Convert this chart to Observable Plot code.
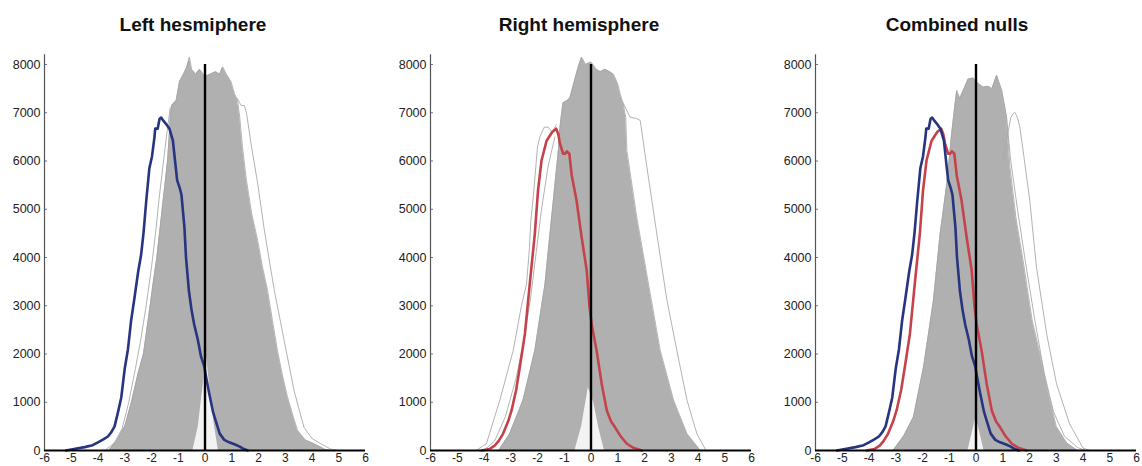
<!DOCTYPE html>
<html><head><meta charset="utf-8">
<script src="https://cdn.jsdelivr.net/npm/d3@7"></script>
<script src="https://cdn.jsdelivr.net/npm/@observablehq/plot@0.6"></script>
<style>
body{margin:0;background:#fff;font-family:"Liberation Sans",Arial,sans-serif;}
#row{display:flex;width:1142px;height:466px;overflow:hidden;position:relative}
.panel{flex:none;position:relative}
.title{height:40px;line-height:50px;font-weight:bold;font-size:19px;text-align:center;color:#111;white-space:nowrap}
svg{display:block;overflow:visible}
</style></head>
<body><div id="row"></div>
<script>
// ---- data ----
const panelTitles = ["Left hesmiphere", "Right hemisphere", "Combined nulls"];
const xTicks = [-6,-5,-4,-3,-2,-1,0,1,2,3,4,5,6];
const yTicks = [0,1000,2000,3000,4000,5000,6000,7000,8000];

// observed distributions [z, count]
const leftObserved = [[-5.2,0],[-4.9,30],[-4.5,70],[-4.2,110],[-4.0,170],[-3.8,230],[-3.63,290],[-3.5,380],[-3.38,500],[-3.25,800],[-3.13,1100],[-3.0,1700],[-2.88,2100],[-2.76,2700],[-2.64,3150],[-2.5,3700],[-2.39,4050],[-2.3,4500],[-2.2,5150],[-2.08,5850],[-1.98,6100],[-1.89,6490],[-1.86,6670],[-1.77,6670],[-1.7,6870],[-1.64,6900],[-1.55,6830],[-1.46,6770],[-1.33,6670],[-1.2,6420],[-1.1,5900],[-1.04,5600],[-0.95,5450],[-0.88,5300],[-0.77,4630],[-0.71,4000],[-0.6,3300],[-0.5,2900],[-0.4,2600],[-0.27,2300],[-0.15,1950],[-0.03,1750],[0.05,1500],[0.15,1200],[0.3,800],[0.41,600],[0.55,350],[0.72,220],[0.9,170],[1.1,130],[1.3,80],[1.45,30],[1.6,0]];
const rightObserved = [[-4.1,0],[-3.8,30],[-3.6,100],[-3.45,200],[-3.29,345],[-3.1,600],[-2.97,830],[-2.8,1250],[-2.66,1730],[-2.47,2420],[-2.29,3450],[-2.1,4490],[-1.98,5390],[-1.85,6010],[-1.66,6420],[-1.45,6600],[-1.3,6670],[-1.22,6550],[-1.16,6360],[-1.04,6150],[-0.97,6150],[-0.9,6200],[-0.81,6150],[-0.72,5700],[-0.54,5180],[-0.35,4420],[-0.16,3730],[-0.06,3000],[0.03,2600],[0.21,2070],[0.4,1380],[0.59,830],[0.75,600],[0.9,480],[1.1,300],[1.34,140],[1.6,50],[1.9,0]];

// null clouds: upper envelope of the dense bundle, lower envelope (gap), outlying null curves
const leftNullTop = [[-3.6,0],[-3.3,200],[-3.0,500],[-2.75,1000],[-2.5,1600],[-2.3,2000],[-2.15,2600],[-2.05,3000],[-1.93,3500],[-1.8,4000],[-1.7,4500],[-1.6,5000],[-1.5,5500],[-1.4,6000],[-1.34,6500],[-1.3,6900],[-1.25,7150],[-1.08,7250],[-0.95,7650],[-0.8,7800],[-0.68,7950],[-0.58,8150],[-0.5,7900],[-0.35,7800],[-0.2,7900],[0,7750],[0.2,7800],[0.4,7850],[0.55,7800],[0.66,7950],[0.8,7800],[0.97,7650],[1.1,7400],[1.22,7250],[1.3,6900],[1.4,6300],[1.55,5600],[1.75,4900],[1.97,4350],[2.15,3800],[2.34,3320],[2.52,2700],[2.71,2070],[2.9,1550],[3.09,1100],[3.3,700],[3.46,415],[3.75,220],[4.08,140],[4.5,20],[4.7,0]];
const leftNullGap = [[-0.45,0],[-0.25,500],[-0.08,1300],[0.05,2000],[0.18,1300],[0.33,600],[0.5,0]];
const leftNullOutliers = [
  [[1.2,7300],[1.35,7150],[1.47,7150],[1.55,7000],[1.72,6360],[1.97,5530],[2.21,4600],[2.4,3950],[2.59,3320],[2.96,2280],[3.33,1240],[3.7,480],[4.0,250],[4.33,140],[4.7,30],[5.0,0]],
  [[-3.75,0],[-3.4,150],[-3.1,450],[-2.85,1000],[-2.6,1700],[-2.4,2300],[-2.2,3000],[-2.0,3800],[-1.85,4500],[-1.7,5300],[-1.55,6000],[-1.42,6600],[-1.3,7100]]
];

const rightNullTop = [[-3.45,0],[-3.04,345],[-2.54,1040],[-2.1,2070],[-1.72,3450],[-1.47,4840],[-1.22,6220],[-1.16,6700],[-1.05,7200],[-0.9,7250],[-0.79,7300],[-0.6,7700],[-0.45,8000],[-0.35,8150],[-0.2,8000],[0,8050],[0.2,7900],[0.35,7850],[0.52,7900],[0.7,7850],[0.84,7800],[1.0,7600],[1.09,7390],[1.2,7200],[1.3,6900],[1.34,6220],[1.71,4840],[2.15,3450],[2.59,2070],[3.09,1040],[3.59,345],[4.09,0]];
const rightNullGap = [[-0.6,0],[-0.35,500],[-0.1,1300],[0.1,1000],[0.3,450],[0.5,0]];
const rightNullOutliers = [
  [[-4.3,0],[-3.91,140],[-3.41,1040],[-2.91,2070],[-2.6,3000],[-2.41,3450],[-2.3,4200],[-2.25,4760],[-2.15,5300],[-2.0,6300],[-1.91,6500],[-1.75,6700],[-1.6,6700],[-1.45,6600],[-1.3,6750]],
  [[-4.0,0],[-3.6,200],[-3.2,700],[-2.8,1500],[-2.5,2300],[-2.25,3200],[-2.05,4100],[-1.85,5000],[-1.6,5900],[-1.35,6500]],
  [[1.2,7200],[1.46,6910],[1.7,6880],[1.84,6840],[2.09,5870],[2.46,4490],[2.84,3110],[3.21,2070],[3.59,1040],[3.96,345],[4.3,0]]
];

const combinedNullTop = [[-3.1,0],[-2.7,300],[-2.34,690],[-1.96,1730],[-1.59,3110],[-1.34,4490],[-1.09,5530],[-0.91,6560],[-0.8,7100],[-0.72,7460],[-0.6,7300],[-0.45,7500],[-0.29,7700],[-0.1,7720],[0.1,7600],[0.27,7530],[0.45,7550],[0.6,7500],[0.77,7770],[0.96,7460],[1.14,6910],[1.27,5870],[1.5,4800],[1.76,3940],[2.1,2700],[2.39,2000],[2.7,1200],[3.0,500],[3.4,150],[3.8,0]];
const combinedNullGap = [[-0.3,0],[0,700],[0.3,0]];
const combinedNullOutliers = [
  [[1.0,6000],[1.2,6600],[1.3,6900],[1.39,6980],[1.45,7010],[1.55,6900],[1.64,6700],[1.76,6220],[2.01,5180],[2.26,3800],[2.64,2420],[3.01,1380],[3.5,550],[4.0,50],[4.25,0]],
  [[0.6,7500],[0.77,7770],[0.96,7460],[1.14,6910],[1.3,6000],[1.55,5000],[1.85,3900],[2.2,2700],[2.55,1600],[2.9,800],[3.3,300],[3.8,60],[4.1,0]]
];

// ---- drawing ----
const BLUE = "#27347f", RED = "#c4434b", GRAY = "#a9a9a9";
const panels = [
  {top: leftNullTop, gap: leftNullGap, outliers: leftNullOutliers, observed: [[leftObserved, BLUE]], w: 386, ml: 44, mr: 21},
  {top: rightNullTop, gap: rightNullGap, outliers: rightNullOutliers, observed: [[rightObserved, RED]], w: 386, ml: 44, mr: 21},
  {top: combinedNullTop, gap: combinedNullGap, outliers: combinedNullOutliers, observed: [[rightObserved, RED],[leftObserved, BLUE]], w: 370, ml: 43, mr: 6}
];
const row = document.getElementById("row");
const px = d => d[0], py = d => d[1];
panels.forEach((p, i) => {
  const div = document.createElement("div");
  div.className = "panel";
  div.style.width = p.w + "px";
  const t = document.createElement("div");
  t.className = "title";
  t.textContent = panelTitles[i];
  div.appendChild(t);
  const outlierRows = p.outliers.flatMap((c, k) => c.map(d => ({x: d[0], y: d[1], k})));
  const marks = [
    Plot.areaY(p.top, {x: px, y: py, fill: "#b0b0b0"}),
    Plot.areaY(p.gap, {x: px, y: py, fill: "#f3f3f3"}),
    Plot.line(outlierRows, {x: "x", y: "y", z: "k", stroke: GRAY, strokeWidth: 0.9}),
    Plot.line(p.top, {x: px, y: py, stroke: "#a3a3a3", strokeWidth: 0.8}),
    ...p.observed.map(([data, color]) => Plot.line(data, {x: px, y: py, stroke: color, strokeWidth: 2.6, strokeLinejoin: "round"})),
    Plot.ruleX([0], {y1: yTicks[0], y2: yTicks[yTicks.length - 1], stroke: "#000", strokeWidth: 2.4}),
    Plot.tickY(yTicks.slice(1), {y: d => d, stroke: "#777", strokeWidth: 1, insetRight: 318}),
    Plot.frame({anchor: "left", stroke: "#555", strokeWidth: 1.2}),
    Plot.ruleY([0], {stroke: "#000", strokeWidth: 2}),
    Plot.axisY({ticks: yTicks, tickSize: 0, tickPadding: 4, tickFormat: d => String(d), fontSize: 12.5, fill: "#222", label: null}),
    Plot.axisX({ticks: xTicks, tickSize: 0, tickPadding: 3, tickFormat: d => String(d), fontSize: 12, fill: "#222", label: null})
  ];
  const svg = Plot.plot({
    width: p.w, height: 426,
    marginLeft: p.ml, marginRight: p.mr, marginTop: 14.35, marginBottom: 16,
    x: {domain: [-6, 6]},
    y: {domain: [0, 8200]},
    style: {fontFamily: '"Liberation Sans", Arial, sans-serif', background: "transparent"},
    marks
  });
  div.appendChild(svg);
  row.appendChild(div);
});
</script></body></html>
